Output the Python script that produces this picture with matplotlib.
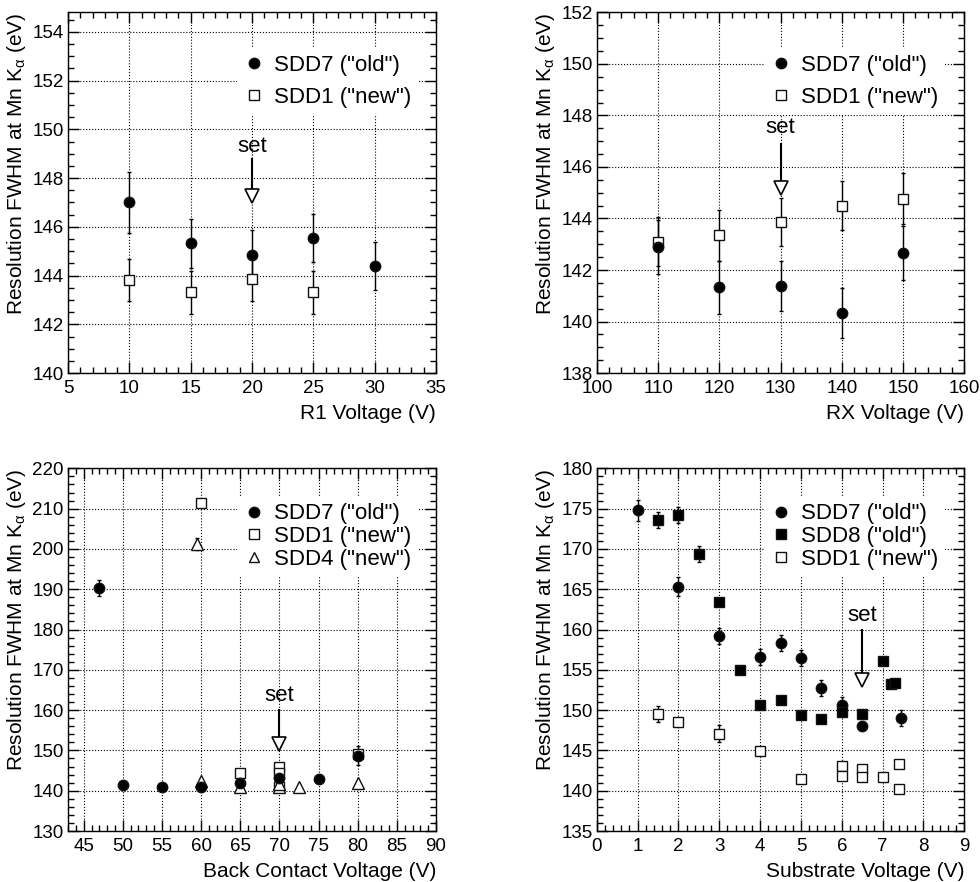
import numpy as np
import matplotlib
matplotlib.use("Agg")
import matplotlib.pyplot as plt
from matplotlib.lines import Line2D
from matplotlib.ticker import MultipleLocator

plt.rcParams['font.family'] = ['Liberation Sans', 'DejaVu Sans']
plt.rcParams['mathtext.fontset'] = 'custom'
plt.rcParams['mathtext.rm'] = 'Liberation Sans'
plt.rcParams['mathtext.it'] = 'Liberation Sans:italic'

# ---- R1 scan ----
r1_x = [10, 15, 20, 25, 30]
r1_sdd7 = [147.0, 145.32, 144.86, 145.54, 144.39]
r1_sdd7_err = [1.24, 1.0, 1.0, 1.0, 1.0]
r1_sdd1_x = [10, 15, 20, 25]
r1_sdd1 = [143.82, 143.31, 143.86, 143.31]
r1_sdd1_err = [0.87, 0.88, 0.9, 0.88]
r1_set = (20, 149.3, 148.8, 147.25)   # x, text y, arrow start, arrow tip

# ---- RX scan ----
rx_x = [110, 120, 130, 140, 150]
rx_sdd7 = [142.88, 141.33, 141.38, 140.34, 142.66]
rx_sdd7_err = [1.05, 1.03, 0.98, 0.97, 1.03]
rx_sdd1 = [143.1, 143.34, 143.87, 144.49, 144.77]
rx_sdd1_err = [0.95, 0.98, 0.92, 0.95, 1.0]
rx_set = (130, 147.55, 146.9, 145.2)

# ---- back contact scan ----
bc_sdd7_x = [47, 50, 55, 60, 65, 70, 75, 80]
bc_sdd7 = [190.4, 141.4, 141.0, 140.8, 141.9, 143.2, 143.0, 148.7]
bc_sdd7_err = [2.0, 0.5, 0.5, 0.5, 0.5, 0.8, 0.5, 2.3]
bc_sdd1_x = [60, 65, 70, 70, 70, 80]
bc_sdd1 = [211.4, 144.3, 145.9, 144.3, 141.0, 149.0]
bc_sdd1_err = [0.8, 0.5, 0.8, 0.5, 0.5, 1.0]
bc_sdd4_x = [59.5, 60, 65, 70, 70, 72.5, 80]
bc_sdd4 = [201.3, 142.5, 140.9, 140.8, 141.6, 140.8, 141.9]
bc_sdd4_err = [1.5, 0.5, 0.5, 0.5, 0.5, 0.5, 0.5]
bc_set = (70, 163.7, 160.0, 151.5)

# ---- substrate scan ----
sub_sdd7_x = [1, 2, 3, 4, 4.5, 5, 5.5, 6, 6.5, 7.45]
sub_sdd7 = [174.8, 165.3, 159.2, 156.6, 158.3, 156.5, 152.8, 150.6, 148.0, 149.0]
sub_sdd7_err = [1.3, 1.2, 1.0, 1.0, 1.0, 1.0, 1.0, 1.0, 0.5, 1.0]
sub_sdd8_x = [1.5, 2, 2.5, 3, 3.5, 4, 4.5, 5, 5.5, 6, 6.5, 7, 7.2, 7.3]
sub_sdd8 = [173.6, 174.2, 169.4, 163.4, 155.0, 150.6, 151.3, 149.4, 148.9,
            149.75, 149.5, 156.1, 153.3, 153.4]
sub_sdd8_err = [1.0, 1.0, 1.0, 0.5, 0.5, 0.5, 0.5, 0.5, 0.5, 0.5, 0.5, 0.5, 0.5, 0.5]
sub_sdd1_x = [1.5, 2, 3, 4, 5, 6, 6, 6.5, 6.5, 7, 7.4, 7.4]
sub_sdd1 = [149.5, 148.5, 147.1, 144.9, 141.5, 143.1, 141.8, 142.65, 141.75,
            141.75, 143.3, 140.25]
sub_sdd1_err = [1.0, 0.5, 1.0, 0.5, 0.5, 0.5, 0.5, 0.5, 0.5, 0.5, 0.5, 0.5]
sub_set = (6.5, 161.8, 160.0, 153.7)

ylab = r'Resolution FWHM at Mn K$_{\mathrm{\alpha}}$ (eV)'
FS = 15
LFS = 16
MS = 7.5

fig = plt.figure(figsize=(9.8, 8.82), dpi=100)


def style(ax, xlim, ylim, xmaj, xmin, ymaj, ymin, xlabel):
    ax.set_xlim(*xlim)
    ax.set_ylim(*ylim)
    ax.xaxis.set_major_locator(MultipleLocator(xmaj))
    ax.xaxis.set_minor_locator(MultipleLocator(xmin))
    ax.yaxis.set_major_locator(MultipleLocator(ymaj))
    ax.yaxis.set_minor_locator(MultipleLocator(ymin))
    ax.tick_params(which='both', direction='in', top=True, right=True,
                   labelsize=13.5, width=1)
    ax.tick_params(axis='y', pad=3)
    ax.tick_params(axis='x', pad=5)
    ax.tick_params(which='major', length=8)
    ax.tick_params(which='minor', length=4)
    ax.grid(True, which='major', linestyle=':', color='black', linewidth=0.8)
    ax.set_axisbelow(True)
    for s in ax.spines.values():
        s.set_linewidth(1)
    ax.set_xlabel(xlabel, fontsize=FS, loc='right', labelpad=5)
    ax.set_ylabel(ylab, fontsize=FS, loc='top', labelpad=3)


def series(ax, x, y, err, marker, filled, ms=MS):
    fc = 'black' if filled else 'white'
    ax.errorbar(x, y, yerr=err, fmt=marker, ms=ms, mfc=fc, mec='#111111',
                mew=1, ecolor='black', elinewidth=1, capsize=1.5,
                capthick=1, zorder=3)


def set_mark(ax, s):
    x, ty, y0, y1 = s
    ax.text(x, ty, 'set', fontsize=LFS, ha='center', va='center', zorder=8)
    ax.plot([x, x], [y0, y1], color='black', lw=1.5, zorder=4)
    ax.plot([x], [y1], marker='v', ms=10, mfc='white', mec='black',
            mew=1.2, zorder=5)


def legend(ax, entries, anchor, spacing):
    handles = []
    for marker, filled, label in entries:
        handles.append(Line2D([], [], marker=marker, linestyle='none', ms=MS,
                              mfc='black' if filled else 'white',
                              mec='#111111', mew=1, label=label))
    leg = ax.legend(handles=handles, loc='upper left', bbox_to_anchor=anchor,
                    fontsize=LFS, frameon=True, fancybox=False,
                    facecolor='white', edgecolor='none', framealpha=1,
                    handlelength=0.9, handletextpad=0.45,
                    labelspacing=spacing, borderpad=0.3, borderaxespad=0)
    leg.set_zorder(6)


# top left: R1
ax1 = fig.add_axes([0.0694, 0.577, 0.3755, 0.409])
style(ax1, (5, 35), (140, 154.8), 5, 1, 2, 0.5, 'R1 Voltage (V)')
series(ax1, r1_sdd1_x, r1_sdd1, r1_sdd1_err, 's', False)
series(ax1, r1_x, r1_sdd7, r1_sdd7_err, 'o', True)
set_mark(ax1, r1_set)
legend(ax1, [('o', True, 'SDD7 ("old")'), ('s', False, 'SDD1 ("new")')],
       (0.46, 0.9), 0.5)

# top right: RX
ax2 = fig.add_axes([0.609, 0.577, 0.375, 0.409])
style(ax2, (100, 160), (138, 152), 10, 2, 2, 0.5, 'RX Voltage (V)')
series(ax2, rx_x, rx_sdd1, rx_sdd1_err, 's', False)
series(ax2, rx_x, rx_sdd7, rx_sdd7_err, 'o', True)
set_mark(ax2, rx_set)
legend(ax2, [('o', True, 'SDD7 ("old")'), ('s', False, 'SDD1 ("new")')],
       (0.457, 0.9), 0.5)

# bottom left: back contact
ax3 = fig.add_axes([0.0694, 0.0578, 0.3755, 0.4112])
style(ax3, (43, 90), (130, 220), 5, 1, 10, 2, 'Back Contact Voltage (V)')
series(ax3, bc_sdd1_x, bc_sdd1, bc_sdd1_err, 's', False)
series(ax3, bc_sdd4_x, bc_sdd4, bc_sdd4_err, '^', False, ms=8)
series(ax3, bc_sdd7_x, bc_sdd7, bc_sdd7_err, 'o', True)
set_mark(ax3, bc_set)
legend(ax3, [('o', True, 'SDD7 ("old")'), ('s', False, 'SDD1 ("new")'),
             ('^', False, 'SDD4 ("new")')], (0.46, 0.922), 0.08)

# bottom right: substrate
ax4 = fig.add_axes([0.609, 0.0578, 0.375, 0.4112])
style(ax4, (0, 9), (135, 180), 1, 0.2, 5, 1, 'Substrate Voltage (V)')
series(ax4, sub_sdd1_x, sub_sdd1, sub_sdd1_err, 's', False)
series(ax4, sub_sdd7_x, sub_sdd7, sub_sdd7_err, 'o', True)
series(ax4, sub_sdd8_x, sub_sdd8, sub_sdd8_err, 's', True)
set_mark(ax4, sub_set)
legend(ax4, [('o', True, 'SDD7 ("old")'), ('s', True, 'SDD8 ("old")'),
             ('s', False, 'SDD1 ("new")')], (0.457, 0.922), 0.08)

fig.savefig('out.png', dpi=100)
